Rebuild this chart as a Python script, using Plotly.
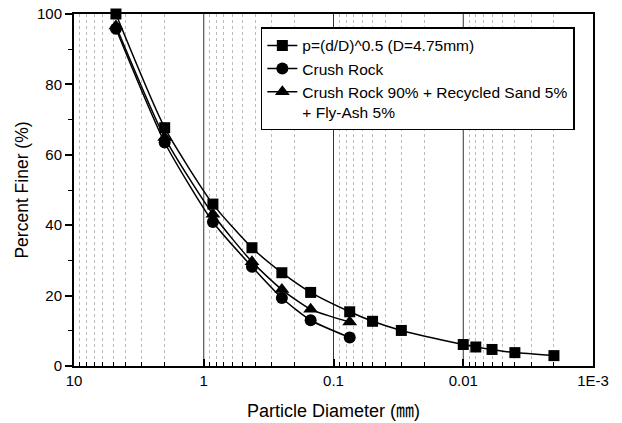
import plotly.graph_objects as go

# Data
d_theory = [4.75, 2.0, 0.85, 0.425, 0.25, 0.15, 0.075, 0.05, 0.03, 0.01, 0.008, 0.006, 0.004, 0.002]
p_theory = [100, 67.7, 46.0, 33.6, 26.5, 20.9, 15.4, 12.7, 10.1, 6.1, 5.4, 4.7, 3.8, 2.95]

d_rock = [4.75, 2.0, 0.85, 0.425, 0.25, 0.15, 0.075]
p_rock = [95.8, 63.5, 40.9, 28.2, 19.3, 13.0, 8.1]

d_mix = [4.75, 2.0, 0.85, 0.425, 0.25, 0.15, 0.075]
p_mix = [96.6, 64.9, 43.1, 29.6, 21.7, 16.1, 12.5]

names = ["p=(d/D)^0.5 (D=4.75mm)", "Crush Rock",
         "Crush Rock 90% + Recycled Sand 5%<br>+ Fly-Ash 5%"]

x_tickvals = [10, 1, 0.1, 0.01, 0.001]
x_ticktext = ["10", "1", "0.1", "0.01", "1E-3"]
x_minor = [k * 10 ** e for e in range(-3, 1) for k in range(2, 10)]
major_grid = [1, 0.1, 0.01]

FONT = "Arial, 'Liberation Sans', 'Noto Sans CJK KR', sans-serif"

fig = go.Figure()
series = [(d_theory, p_theory, "square", 11), (d_rock, p_rock, "circle", 12),
          (d_mix, p_mix, "triangle-up", 13)]
for (xs, ys, sym, sz), nm in zip(series, names):
    fig.add_trace(go.Scatter(
        x=xs, y=ys, mode="lines+markers", name=nm,
        line=dict(color="black", width=1.5, shape="spline", smoothing=0.6),
        marker=dict(symbol=sym, size=sz, color="black"),
        cliponaxis=False,
    ))

# major vertical gridlines (solid)
for g in major_grid:
    fig.add_shape(type="line", xref="x", yref="paper", x0=g, x1=g, y0=0, y1=1,
                  line=dict(color="#333333", width=1), layer="below")

fig.update_layout(
    width=622, height=423,
    margin=dict(l=74, r=29, t=14, b=57),
    plot_bgcolor="white", paper_bgcolor="white",
    font=dict(family=FONT, size=15, color="black"),
    showlegend=True,
    legend=dict(x=0.36, y=0.962, xanchor="left", yanchor="top",
                bgcolor="white", bordercolor="black", borderwidth=1.5,
                font=dict(size=15.5, family=FONT), valign="top",
                tracegroupgap=0, itemwidth=30),
    xaxis=dict(
        type="log", range=[1, -3], automargin=False,
        tickmode="array", tickvals=x_tickvals, ticktext=x_ticktext,
        ticks="inside", ticklen=7, tickwidth=1.5, tickcolor="black",
        showgrid=False, zeroline=False,
        showline=True, linecolor="black", linewidth=2, mirror=True,
        minor=dict(tickmode="array", tickvals=x_minor, ticks="inside", ticklen=4,
                   tickwidth=1, tickcolor="black", showgrid=True,
                   gridcolor="#bbbbbb", griddash="dot", gridwidth=1),
        title=dict(text="Particle Diameter (㎜)", font=dict(size=18, family=FONT), standoff=16),
        tickfont=dict(size=15),
    ),
    yaxis=dict(
        range=[0, 100], tickmode="array", tickvals=[0, 20, 40, 60, 80, 100],
        automargin=False,
        ticks="outside", ticklen=7, tickwidth=1.5, tickcolor="black",
        showgrid=False, zeroline=False,
        showline=True, linecolor="black", linewidth=2, mirror=True,
        minor=dict(tickmode="array", tickvals=[10, 30, 50, 70, 90], ticks="outside",
                   ticklen=4, tickwidth=1, tickcolor="black", showgrid=False),
        title=dict(text="Percent Finer (%)", font=dict(size=17.5, family=FONT), standoff=4),
        tickfont=dict(size=15),
    ),
)

# remove the page's default 8px body margin so the figure fills the window
fig.write_html("out.html", config={"displayModeBar": False},
               post_script="document.body.style.margin='0px';")
